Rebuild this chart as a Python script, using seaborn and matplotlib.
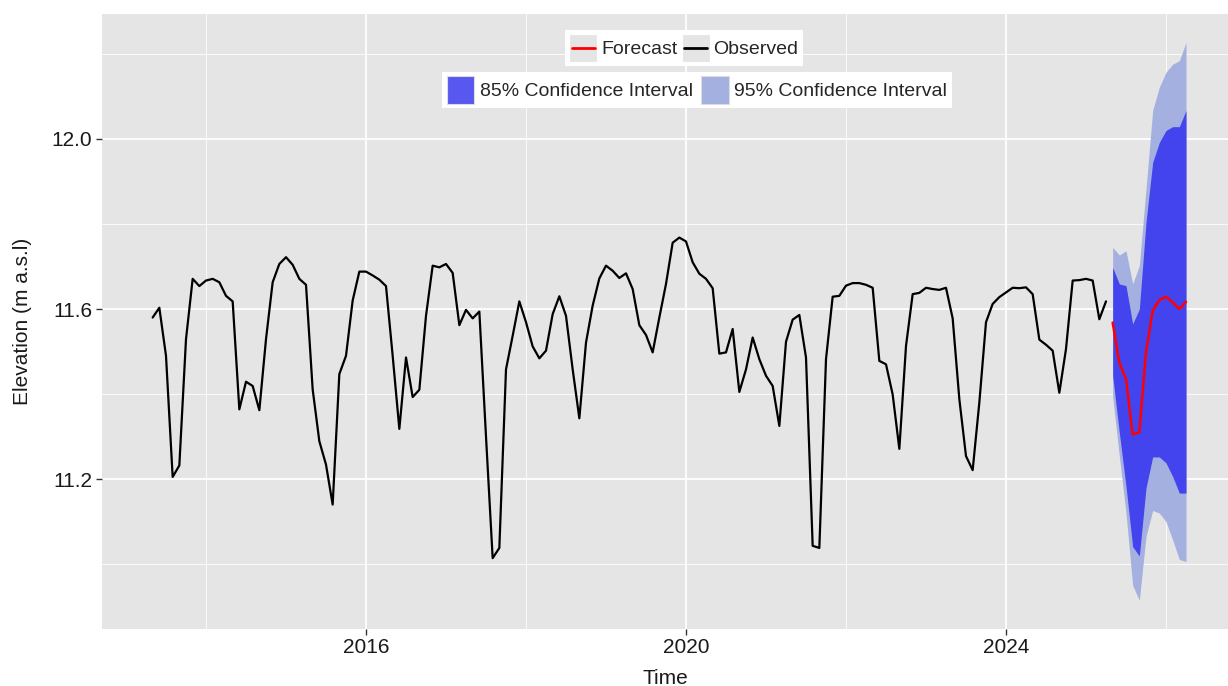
import numpy as np
import pandas as pd
import matplotlib
matplotlib.use("Agg")
import matplotlib.pyplot as plt
import seaborn as sns
from matplotlib.patches import Patch, Rectangle
from matplotlib.lines import Line2D
from matplotlib.legend_handler import HandlerBase

# ---------------- data ----------------
obs_start = "2013-05-01"
observed = [
    11.580, 11.603, 11.490, 11.205, 11.232, 11.529, 11.671, 11.654, 11.667, 11.671,
    11.663, 11.631, 11.618, 11.364, 11.429, 11.419, 11.362, 11.529, 11.663, 11.706,
    11.722, 11.704, 11.671, 11.657, 11.411, 11.289, 11.234, 11.140, 11.447, 11.490,
    11.620, 11.688, 11.688, 11.679, 11.669, 11.654, 11.490, 11.318, 11.486, 11.393,
    11.410, 11.584, 11.702,
    11.698, 11.706, 11.685, 11.562, 11.598, 11.578, 11.594, 11.300, 11.014, 11.038,
    11.458, 11.537, 11.618, 11.569, 11.512, 11.484, 11.502, 11.588, 11.630, 11.584,
    11.458, 11.343, 11.521, 11.608, 11.672, 11.702, 11.690, 11.673, 11.684, 11.647,
    11.562, 11.539, 11.498, 11.580, 11.659, 11.756, 11.768, 11.759, 11.710, 11.683,
    11.671, 11.649, 11.495, 11.498, 11.553, 11.405, 11.458, 11.533, 11.482, 11.443,
    11.419, 11.325,
    11.523, 11.575, 11.586, 11.486, 11.043, 11.038, 11.482, 11.629, 11.631, 11.655,
    11.661, 11.661, 11.657, 11.650, 11.478, 11.470, 11.399, 11.271, 11.513, 11.635,
    11.638, 11.650, 11.647, 11.645, 11.650, 11.578, 11.388, 11.254, 11.221, 11.380,
    11.569, 11.612, 11.628, 11.639, 11.650, 11.649, 11.651, 11.635, 11.528, 11.516,
    11.502, 11.403, 11.506, 11.667, 11.668, 11.671, 11.667, 11.576, 11.618,
]
fc_start = "2025-05-01"
forecast = [11.568, 11.474, 11.435, 11.305, 11.310, 11.498, 11.596, 11.621,
            11.629, 11.616, 11.600, 11.617]
lo85 = [11.443, 11.309, 11.183, 11.041, 11.019, 11.179, 11.252, 11.252,
        11.238, 11.206, 11.167, 11.167]
hi85 = [11.698, 11.659, 11.655, 11.565, 11.600, 11.804, 11.945, 11.992,
        12.020, 12.029, 12.029, 12.067]
lo95 = [11.395, 11.254, 11.120, 10.950, 10.915, 11.065, 11.126, 11.120,
        11.100, 11.057, 11.011, 11.006]
hi95 = [11.745, 11.727, 11.737, 11.659, 11.702, 11.882, 12.067, 12.122,
        12.157, 12.176, 12.184, 12.227]

x_major = [2016, 2020, 2024]
x_minor = [2014, 2018, 2022, 2026]
y_major = [11.2, 11.6, 12.0]
y_minor = [11.0, 11.4, 11.8, 12.2]


def dec_year(dates):
    return dates.year + (dates.month - 1) / 12.0


obs_df = pd.DataFrame({
    "t": dec_year(pd.date_range(obs_start, periods=len(observed), freq="MS")),
    "v": observed,
})
fc_df = pd.DataFrame({
    "t": dec_year(pd.date_range(fc_start, periods=len(forecast), freq="MS")),
    "v": forecast, "lo85": lo85, "hi85": hi85, "lo95": lo95, "hi95": hi95,
})

# ---------------- style ----------------
sns.set_theme(style="darkgrid")
plt.rcParams["font.family"] = ["Liberation Sans", "DejaVu Sans"]

C85 = "#4444ee"
C95 = "#a4b1e0"
C85_KEY = "#5858f0"
PANEL = "#e5e5e5"

fig = plt.figure(figsize=(12.28, 6.86), dpi=100)
ax = fig.add_axes([102 / 1228, 1 - 628.7 / 686, 1 - 102 / 1228, (628.7 - 14) / 686])
ax.set_facecolor(PANEL)
for s in ax.spines.values():
    s.set_visible(False)

ax.fill_between(fc_df["t"], fc_df["lo95"], fc_df["hi95"], color=C95, lw=0, zorder=2)
ax.fill_between(fc_df["t"], fc_df["lo85"], fc_df["hi85"], color=C85, lw=0, zorder=3)
sns.lineplot(data=obs_df, x="t", y="v", ax=ax, color="black", lw=1.6, zorder=4)
sns.lineplot(data=fc_df, x="t", y="v", ax=ax, color="red", lw=1.8, zorder=5)

ax.set_xlim(2012.7, 2026.775)
ax.set_ylim(10.848, 12.294)
ax.set_xticks(x_major)
ax.set_xticks(x_minor, minor=True)
ax.set_yticks(y_major)
ax.set_yticks(y_minor, minor=True)
ax.set_xticklabels([str(v) for v in x_major])
ax.set_yticklabels([f"{v:.1f}" for v in y_major])
ax.grid(which="major", color="white", lw=1.3)
ax.grid(which="minor", color="white", lw=0.6)
ax.tick_params(which="major", length=4, width=1.0, color="#333333",
               labelsize=15, labelcolor="#1a1a1a", pad=3, direction="out",
               bottom=True, left=True)
ax.tick_params(which="minor", length=0)
ax.set_xlabel("Time", fontsize=15, color="#1a1a1a", labelpad=8)
ax.set_ylabel("Elevation (m a.s.l)", fontsize=15, color="#1a1a1a", labelpad=14)


# ---------------- legends ----------------
class LineOnKey(HandlerBase):
    """ggplot-like legend key: grey square with a horizontal line."""
    def create_artists(self, legend, orig_handle, xdescent, ydescent,
                       width, height, fontsize, trans):
        x0, y0 = -xdescent, -ydescent
        rect = Rectangle((x0, y0), width, height, facecolor=PANEL,
                         edgecolor="white", lw=0.8, transform=trans)
        ym = y0 + height / 2
        line = Line2D([x0 + 0.08 * width, x0 + 0.92 * width], [ym, ym],
                      color=orig_handle.get_color(), lw=orig_handle.get_linewidth(),
                      transform=trans)
        return [rect, line]


HL, HH = 1.42, 1.8
h_fc = Line2D([], [], color="red", lw=2)
h_ob = Line2D([], [], color="black", lw=2)
leg1 = fig.legend([h_fc, h_ob], ["Forecast", "Observed"], ncol=2,
                  loc="center", bbox_to_anchor=(684 / 1228, 1 - 48 / 686),
                  handler_map={Line2D: LineOnKey()},
                  fontsize=14, handlelength=HL, handleheight=HH,
                  handletextpad=0.2, columnspacing=0.25, borderpad=0.22,
                  frameon=True, fancybox=False, framealpha=1,
                  facecolor="white", edgecolor="none")
h85 = Patch(facecolor=C85_KEY, edgecolor="#dddddd", lw=0.8)
h95 = Patch(facecolor=C95, edgecolor="#dddddd", lw=0.8)
leg2 = fig.legend([h85, h95], ["85% Confidence Interval", "95% Confidence Interval"],
                  ncol=2, loc="center", bbox_to_anchor=(697 / 1228, 1 - 90 / 686),
                  fontsize=14, handlelength=HL, handleheight=HH,
                  handletextpad=0.3, columnspacing=0.4, borderpad=0.22,
                  frameon=True, fancybox=False, framealpha=1,
                  facecolor="white", edgecolor="none")
fig.add_artist(leg1)

fig.savefig("out.png", dpi=100)
